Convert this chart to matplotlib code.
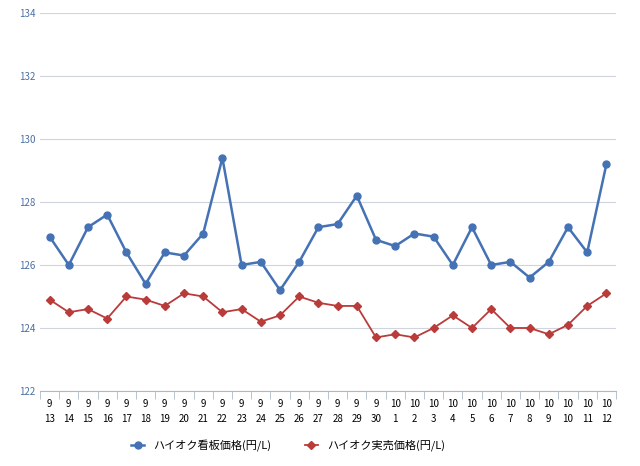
import matplotlib
matplotlib.use("Agg")
import matplotlib.pyplot as plt
import numpy as np

months = [9]*18 + [10]*12
days = list(range(13, 31)) + list(range(1, 13))
signboard = [126.9,126.0,127.2,127.6,126.4,125.4,126.4,126.3,127.0,129.4,126.0,126.1,125.2,126.1,127.2,127.3,128.2,126.8,126.6,127.0,126.9,126.0,127.2,126.0,126.1,125.6,126.1,127.2,126.4,129.2]
actual = [124.9,124.5,124.6,124.3,125.0,124.9,124.7,125.1,125.0,124.5,124.6,124.2,124.4,125.0,124.8,124.7,124.7,123.7,123.8,123.7,124.0,124.4,124.0,124.6,124.0,124.0,123.8,124.1,124.7,125.1]
labels = [f"{m}\n{d}" for m, d in zip(months, days)]

plt.rcParams['font.family'] = ['Noto Sans CJK JP']
fig = plt.figure(figsize=(6.4, 4.66), dpi=100)
ax = fig.add_axes([0.0625, 0.161, 0.9, 0.811])
x = np.arange(len(labels))
ax.plot(x, signboard, color='#4472b4', marker='o', markersize=5, lw=1.8, label='ハイオク看板価格(円/L)')
ax.plot(x, actual, color='#b93c3a', marker='D', markersize=4, lw=1.3, label='ハイオク実売価格(円/L)')
ax.set_ylim(122, 134)
ax.set_xlim(-0.5, len(x)-0.5)
ax.set_yticks(range(122, 135, 2))
ax.tick_params(axis='y', length=0, labelsize=7, labelcolor='#4a6fa5')
ax.set_xticks(x)
ax.set_xticklabels(labels, fontsize=7, linespacing=1.6)
ax.set_xticks(np.arange(-0.5, len(x), 1), minor=True)
ax.tick_params(axis='x', which='major', length=0, pad=6)
ax.tick_params(axis='x', which='minor', length=6, color='#b0b8c8')
ax.grid(axis='y', color='#d0d4dc', lw=0.8)
for s in ['top', 'right', 'left']:
    ax.spines[s].set_visible(False)
ax.spines['bottom'].set_color('#b0b8c8')
fig.legend(loc='lower center', ncol=2, frameon=False, fontsize=8, bbox_to_anchor=(0.45, 0.01),
           columnspacing=3, handlelength=1.2)
fig.savefig('out.png')
